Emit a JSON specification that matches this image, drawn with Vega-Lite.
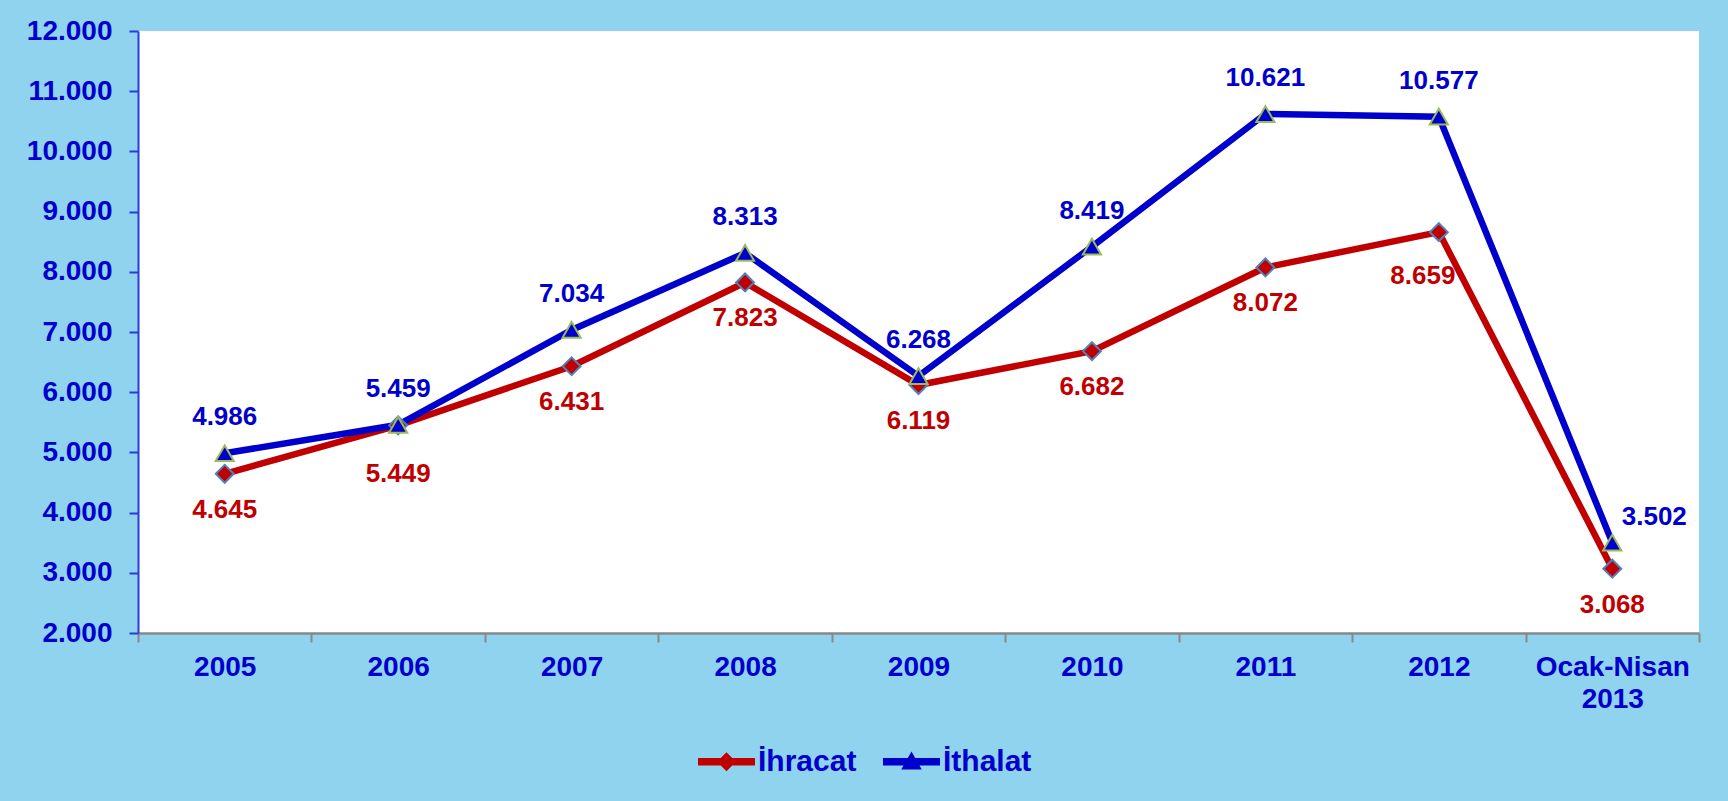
{
  "$schema": "https://vega.github.io/schema/vega-lite/v6.json",
  "autosize": {"type": "none"},
  "width": 1561,
  "height": 602,
  "padding": {"left": 138, "top": 31, "right": 29, "bottom": 168},
  "background": "#8fd3ee",
  "config": {
    "locale": {"number": {"decimal": ",", "thousands": ".", "grouping": [3], "currency": ["", " TL"]}},
    "view": {"fill": "white", "stroke": null},
    "font": "Liberation Sans"
  },
  "data": {
    "values": [
      {"kategori": "2005", "seri": "İhracat", "deger": 4645},
      {"kategori": "2006", "seri": "İhracat", "deger": 5449},
      {"kategori": "2007", "seri": "İhracat", "deger": 6431},
      {"kategori": "2008", "seri": "İhracat", "deger": 7823},
      {"kategori": "2009", "seri": "İhracat", "deger": 6119},
      {"kategori": "2010", "seri": "İhracat", "deger": 6682},
      {"kategori": "2011", "seri": "İhracat", "deger": 8072},
      {"kategori": "2012", "seri": "İhracat", "deger": 8659},
      {"kategori": "Ocak-Nisan 2013", "seri": "İhracat", "deger": 3068},
      {"kategori": "2005", "seri": "İthalat", "deger": 4986},
      {"kategori": "2006", "seri": "İthalat", "deger": 5459},
      {"kategori": "2007", "seri": "İthalat", "deger": 7034},
      {"kategori": "2008", "seri": "İthalat", "deger": 8313},
      {"kategori": "2009", "seri": "İthalat", "deger": 6268},
      {"kategori": "2010", "seri": "İthalat", "deger": 8419},
      {"kategori": "2011", "seri": "İthalat", "deger": 10621},
      {"kategori": "2012", "seri": "İthalat", "deger": 10577},
      {"kategori": "Ocak-Nisan 2013", "seri": "İthalat", "deger": 3502}
    ]
  },
  "encoding": {
    "x": {
      "field": "kategori",
      "type": "nominal",
      "sort": null,
      "scale": {"type": "band", "paddingInner": 0, "paddingOuter": 0},
      "axis": {
        "title": null,
        "labelAngle": 0,
        "labelFont": "Liberation Sans",
        "labelFontSize": 28,
        "labelFontWeight": "bold",
        "labelColor": "#0000cc",
        "labelPadding": 11,
        "labelLineHeight": 32,
        "labelExpr": "datum.label == 'Ocak-Nisan 2013' ? ['Ocak-Nisan', '2013'] : datum.label",
        "tickBand": "extent",
        "tickSize": 9,
        "tickColor": "#888888",
        "tickWidth": 2,
        "domainColor": "#888888",
        "domainWidth": 2.5,
        "grid": false
      }
    },
    "y": {
      "field": "deger",
      "type": "quantitative",
      "scale": {"domain": [2000, 12000], "nice": false, "zero": false},
      "axis": {
        "title": null,
        "values": [2000, 3000, 4000, 5000, 6000, 7000, 8000, 9000, 10000, 11000, 12000],
        "format": ",.0f",
        "labelFont": "Liberation Sans",
        "labelFontSize": 28,
        "labelFontWeight": "bold",
        "labelColor": "#0000cc",
        "labelPadding": 17,
        "tickSize": 9,
        "tickColor": "#2a3adf",
        "tickWidth": 2,
        "domainColor": "#2a3adf",
        "domainWidth": 2,
        "grid": false
      }
    }
  },
  "layer": [
    {
      "mark": {"type": "line", "strokeWidth": 6.5},
      "encoding": {
        "color": {
          "field": "seri",
          "type": "nominal",
          "scale": {"domain": ["İhracat", "İthalat"], "range": ["#c00000", "#0000cc"]},
          "legend": {
            "title": null,
            "orient": "none",
            "direction": "horizontal",
            "legendX": 560,
            "legendY": 702,
            "symbolSize": 3249,
            "symbolStrokeWidth": 0,
            "labelFont": "Liberation Sans",
            "labelFontSize": 30,
            "labelFontWeight": "bold",
            "labelColor": "#0000cc",
            "labelOffset": 3,
            "columnPadding": 26,
            "encode": {
              "symbols": {
                "update": {
                  "shape": {"signal": "datum.value == 'İhracat' ? 'M-1,-0.13H1V0.13H-1Z M0,-0.33L0.33,0L0,0.33L-0.33,0Z' : 'M-1,-0.13H1V0.13H-1Z M0,-0.36L0.36,0.27L-0.36,0.27Z'"},
                  "fill": {"signal": "datum.value == 'İhracat' ? '#c00000' : '#0000cc'"},
                  "fillOpacity": {"value": 1},
                  "strokeWidth": {"value": 0}
                }
              }
            }
          }
        }
      }
    },
    {
      "transform": [{"filter": "datum.seri == 'İhracat'"}],
      "mark": {"type": "point", "shape": "diamond", "filled": true, "fill": "#c00000", "stroke": "#4f81bd", "strokeWidth": 2, "size": 320, "opacity": 1}
    },
    {
      "transform": [{"filter": "datum.seri == 'İthalat'"}],
      "mark": {"type": "point", "shape": "triangle-up", "filled": true, "fill": "#0000cc", "stroke": "#9bbb59", "strokeWidth": 2, "size": 330, "opacity": 1}
    },
    {
      "transform": [{"filter": "datum.seri == 'İhracat' && datum.kategori != '2012' && datum.kategori != '2006'"}],
      "mark": {"type": "text", "dy": 36, "baseline": "middle", "align": "center", "font": "Liberation Sans", "fontSize": 26, "fontWeight": "bold", "color": "#c00000"},
      "encoding": {"text": {"field": "deger", "type": "quantitative", "format": ",.0f"}}
    },
    {
      "transform": [{"filter": "datum.seri == 'İhracat' && datum.kategori == '2012'"}],
      "mark": {"type": "text", "dx": -16, "dy": 44, "baseline": "middle", "align": "center", "font": "Liberation Sans", "fontSize": 26, "fontWeight": "bold", "color": "#c00000"},
      "encoding": {"text": {"field": "deger", "type": "quantitative", "format": ",.0f"}}
    },
    {
      "transform": [{"filter": "datum.seri == 'İhracat' && datum.kategori == '2006'"}],
      "mark": {"type": "text", "dy": 49, "baseline": "middle", "align": "center", "font": "Liberation Sans", "fontSize": 26, "fontWeight": "bold", "color": "#c00000"},
      "encoding": {"text": {"field": "deger", "type": "quantitative", "format": ",.0f"}}
    },
    {
      "transform": [{"filter": "datum.seri == 'İthalat' && datum.kategori != 'Ocak-Nisan 2013'"}],
      "mark": {"type": "text", "dy": -36, "baseline": "middle", "align": "center", "font": "Liberation Sans", "fontSize": 26, "fontWeight": "bold", "color": "#0000cc"},
      "encoding": {"text": {"field": "deger", "type": "quantitative", "format": ",.0f"}}
    },
    {
      "transform": [{"filter": "datum.seri == 'İthalat' && datum.kategori == 'Ocak-Nisan 2013'"}],
      "mark": {"type": "text", "dx": 42, "dy": -26, "baseline": "middle", "align": "center", "font": "Liberation Sans", "fontSize": 26, "fontWeight": "bold", "color": "#0000cc"},
      "encoding": {"text": {"field": "deger", "type": "quantitative", "format": ",.0f"}}
    }
  ]
}
